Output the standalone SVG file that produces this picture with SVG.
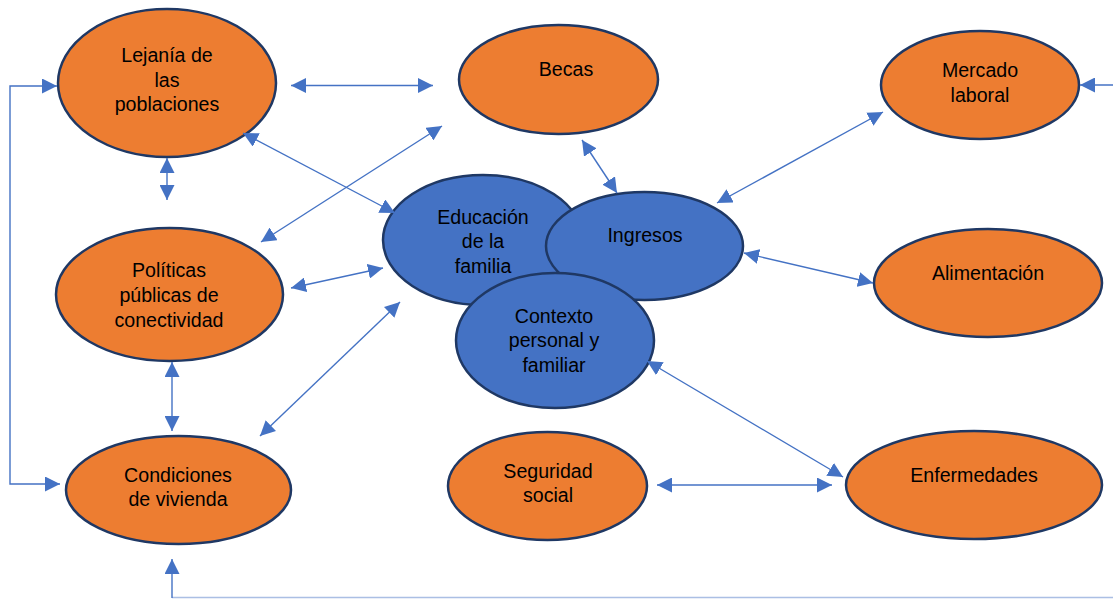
<svg xmlns="http://www.w3.org/2000/svg" width="1113" height="599" viewBox="0 0 1113 599">
<style>
.o{fill:#ED7D31;stroke:#1F3864;stroke-width:2.5}
.b{fill:#4472C4;stroke:#1F3864;stroke-width:2.5}
text{font-family:"Liberation Sans",Arial,sans-serif;font-size:19.6px;fill:#000;text-anchor:middle}
.c line,.c polyline{stroke:#4472C4;stroke-width:1.4;fill:none}
</style>
<defs>
<marker id="ah" markerUnits="userSpaceOnUse" viewBox="0 0 15 15" markerWidth="15" markerHeight="15" refX="15" refY="7.5" orient="auto-start-reverse">
<path d="M0,0 L15,7.5 L0,15 z" fill="#4472C4"/>
</marker>
</defs>
<rect width="1113" height="599" fill="#fff"/>
<g id="lejania"><ellipse class="o" cx="167" cy="83" rx="109" ry="74"/><text x="167" y="62">Lejanía de</text><text x="167" y="87">las</text><text x="167" y="111">poblaciones</text></g>
<g id="becas"><ellipse class="o" cx="558.5" cy="79.5" rx="99.5" ry="54.5"/><text x="566" y="76">Becas</text></g>
<g id="mercado"><ellipse class="o" cx="980" cy="85" rx="99" ry="54"/><text x="980" y="77">Mercado</text><text x="980" y="102">laboral</text></g>
<g id="politicas"><ellipse class="o" cx="169.5" cy="294.5" rx="113.5" ry="66.5"/><text x="169" y="277">Políticas</text><text x="169" y="302">públicas de</text><text x="169" y="327">conectividad</text></g>
<g id="condiciones"><ellipse class="o" cx="178.5" cy="490" rx="112.5" ry="54"/><text x="178" y="482">Condiciones</text><text x="178" y="506">de vivienda</text></g>
<g id="educacion"><ellipse class="b" cx="483" cy="240" rx="100" ry="65"/><text x="483" y="224">Educación</text><text x="483" y="248">de la</text><text x="483" y="273">familia</text></g>
<g id="ingresos"><ellipse class="b" cx="644.5" cy="246" rx="98.5" ry="54"/><text x="645" y="242">Ingresos</text></g>
<g id="contexto"><ellipse class="b" cx="555" cy="340.5" rx="99" ry="67.5"/><text x="554" y="323">Contexto</text><text x="554" y="347">personal y</text><text x="554" y="372">familiar</text></g>
<g id="alimentacion"><ellipse class="o" cx="988" cy="283" rx="114" ry="54"/><text x="988" y="280">Alimentación</text></g>
<g id="seguridad"><ellipse class="o" cx="547.5" cy="486" rx="99.5" ry="54"/><text x="548" y="478">Seguridad</text><text x="548" y="502">social</text></g>
<g id="enfermedades"><ellipse class="o" cx="974" cy="485" rx="128" ry="54"/><text x="974" y="482">Enfermedades</text></g>
<g id="connectors" class="c">
<line x1="291" y1="85.5" x2="433" y2="85.5" marker-start="url(#ah)" marker-end="url(#ah)"/>
<line x1="243" y1="133" x2="395" y2="213" marker-start="url(#ah)" marker-end="url(#ah)"/>
<line x1="442" y1="126" x2="261" y2="242" marker-start="url(#ah)" marker-end="url(#ah)"/>
<line x1="167" y1="158" x2="167" y2="200" marker-start="url(#ah)" marker-end="url(#ah)"/>
<line x1="291" y1="288" x2="383" y2="268" marker-start="url(#ah)" marker-end="url(#ah)"/>
<line x1="172" y1="362" x2="172" y2="431" marker-start="url(#ah)" marker-end="url(#ah)"/>
<line x1="260" y1="436" x2="400" y2="302" marker-start="url(#ah)" marker-end="url(#ah)"/>
<line x1="582" y1="140" x2="617" y2="193" marker-start="url(#ah)" marker-end="url(#ah)"/>
<line x1="717" y1="203" x2="883" y2="112" marker-start="url(#ah)" marker-end="url(#ah)"/>
<line x1="744" y1="253" x2="873" y2="283" marker-start="url(#ah)" marker-end="url(#ah)"/>
<line x1="647" y1="361" x2="843" y2="477" marker-start="url(#ah)" marker-end="url(#ah)"/>
<line x1="657" y1="485" x2="832" y2="485" marker-start="url(#ah)" marker-end="url(#ah)"/>
<line x1="1113" y1="85" x2="1080" y2="85" marker-end="url(#ah)"/>
<polyline points="57,86 10,86 10,484 60,484" marker-start="url(#ah)" marker-end="url(#ah)"/>
<polyline points="172,598 172,559" marker-end="url(#ah)"/>
<line x1="172" y1="597.5" x2="1113" y2="597.5" stroke-opacity="0.45"/>
</g>
</svg>
